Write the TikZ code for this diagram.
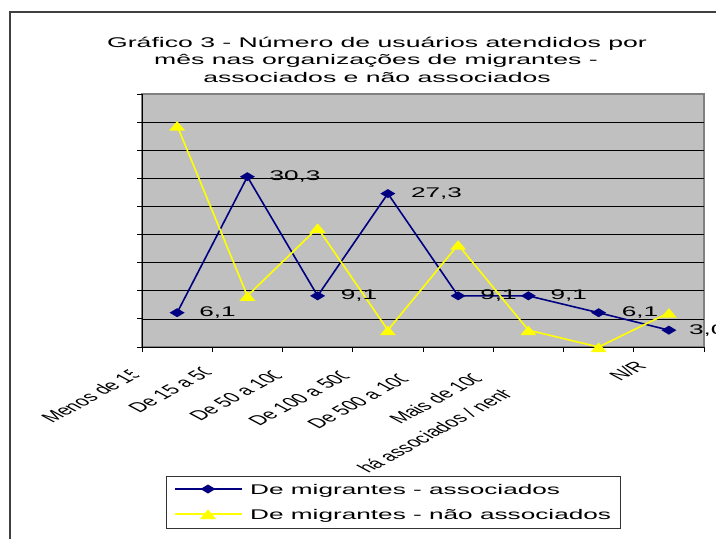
\documentclass[tikz,border=0pt]{standalone}
\usepackage{fontspec}
\setmainfont{Liberation Sans}
\usepackage{graphicx}
\definecolor{navyb}{RGB}{0,0,128}
\definecolor{yel}{RGB}{255,255,0}
\definecolor{plotgray}{RGB}{192,192,192}
\definecolor{bordergray}{RGB}{128,128,128}
\definecolor{framegray}{RGB}{64,64,64}
\newcommand\lf{\fontsize{14}{16}\selectfont}
\newcommand\sx[1]{\scalebox{1.87}[1]{#1}}
\tikzset{
  blueline/.style={draw=navyb, line width=1.6pt},
  yelline/.style={draw=yel, line width=1.6pt},
  gridline/.style={draw=black, line width=0.7pt},
  axisline/.style={draw=black, line width=0.9pt},
  vlab/.style={anchor=west, inner sep=0pt, font=\lf},
  titletext/.style={anchor=base, inner sep=0pt, font=\lf},
  legtext/.style={anchor=base west, inner sep=0pt, font=\lf},
  xlabel/.style={anchor=base west, inner sep=0pt, transform shape},
  dmark/.pic={\fill[navyb] (-7.5,0)--(0,-4.5)--(7.5,0)--(0,4.5)--cycle;},
  tmark/.pic={\fill[yel] (-8,5)--(8,5)--(0,-4.5)--cycle;},
}
\newcommand\xlab[5]{%
  \begin{scope}[shift={(#2,#3)}, xscale=1.85]
    \begin{scope}[rotate=45]
      \lf
      \pgfmathsetmacro\lw{0.86*width("#4")+4.5}
      \clip (-6pt,-6pt) rectangle (\lw pt,16pt);
      \node[xlabel, name=#1] at (0pt,0pt) {\scalebox{0.86}[1]{\lf #4#5}};
    \end{scope}
  \end{scope}}
\begin{document}
\begin{tikzpicture}[x=1pt, y=-1pt]
\useasboundingbox (0,0) rectangle (716,539);
\fill[white] (0,0) rectangle (716,539);
% outer frame
\draw[framegray, line width=1.2pt] (10,12) rectangle (780,600);
% title
\node[titletext] (t1) at (377,47) {\scalebox{1.9}[1]{Gráfico 3 - Número de usuários atendidos por}};
\node[titletext] (t2) at (376,64.5) {\scalebox{1.9}[1]{mês nas organizações de migrantes -}};
\node[titletext] (t3) at (377,82) {\scalebox{1.9}[1]{associados e não associados}};
% plot area
\filldraw[fill=plotgray, draw=bordergray, line width=1.2pt] (142,94) rectangle (704,347);
\foreach \k in {1,...,8} \draw[gridline] (142,{347-28.1*\k}) -- (704,{347-28.1*\k});
\draw[axisline] (142,94) -- (142,347) -- (704,347);
\foreach \k in {0,...,9} \draw[axisline] (137,{347-28.1*\k}) -- (142,{347-28.1*\k});
\foreach \i in {0,...,8} \draw[axisline] ({142+70.25*\i},347) -- ({142+70.25*\i},352);
% data coordinates
\foreach \v [count=\i] in {6.1,30.3,9.1,27.3,9.1,9.1,6.1,3.0}
  \coordinate (b\i) at ({142+70.25*(\i-0.5)},{347-5.62*\v});
\foreach \v [count=\i] in {39.4,9.1,21.2,3.0,18.2,3.0,0,6.1}
  \coordinate (y\i) at ({142+70.25*(\i-0.5)},{347-5.62*\v});
% series lines
\draw[blueline] (b1) -- (b2) -- (b3) -- (b4) -- (b5) -- (b6) -- (b7) -- (b8);
\foreach \i in {1,...,8} \pic at (b\i) {dmark};
\draw[yelline] (y1) -- (y2) -- (y3) -- (y4) -- (y5) -- (y6) -- (y7) -- (y8);
\foreach \i in {1,...,8} \pic at (y\i) {tmark};
% value labels
\node[vlab] (v1) at ([xshift=22pt]b1) {\sx{6,1}};
\node[vlab] (v2) at ([xshift=22pt]b2) {\sx{30,3}};
\node[vlab] (v3) at ([xshift=23pt]b3) {\sx{9,1}};
\node[vlab] (v4) at ([xshift=23pt]b4) {\sx{27,3}};
\node[vlab] (v5) at ([xshift=22pt]b5) {\sx{9,1}};
\node[vlab] (v6) at ([xshift=22pt]b6) {\sx{9,1}};
\node[vlab] (v7) at ([xshift=23pt]b7) {\sx{6,1}};
\node[vlab] (v8) at ([xshift=20pt]b8) {\sx{3,0}};
% category labels
\xlab{c1}{52}{424}{Menos de 1}{5}
\xlab{c2}{139}{414}{De 15 a 5}{0}
\xlab{c3}{200}{422}{De 50 a 10}{0}
\xlab{c4}{259}{427}{De 100 a 50}{0}
\xlab{c5}{318}{430}{De 500 a 10}{0}
\xlab{c6}{400}{425}{Mais de 10}{0}
\xlab{c7}{368}{474}{há associados / nen}{h}
\xlab{c8}{620}{382}{N/R}{}
% legend
\node[draw=black!80, line width=0.9pt, fill=white, anchor=north west, minimum width=454pt, minimum height=52pt, inner sep=0pt] (leg) at (166,476) {};
\coordinate (la1) at (175,489);
\coordinate (lb1) at (242,489);
\coordinate (la2) at (175,514);
\coordinate (lb2) at (242,514);
\draw[blueline] (la1) -- (lb1);
\pic at (208,489) {dmark};
\draw[yelline] (la2) -- (lb2);
\pic at (208,514) {tmark};
\node[legtext] (lt1) at (250,494) {\sx{De migrantes - associados}};
\node[legtext] (lt2) at (250,519) {\sx{De migrantes - não associados}};
\end{tikzpicture}
\end{document}
